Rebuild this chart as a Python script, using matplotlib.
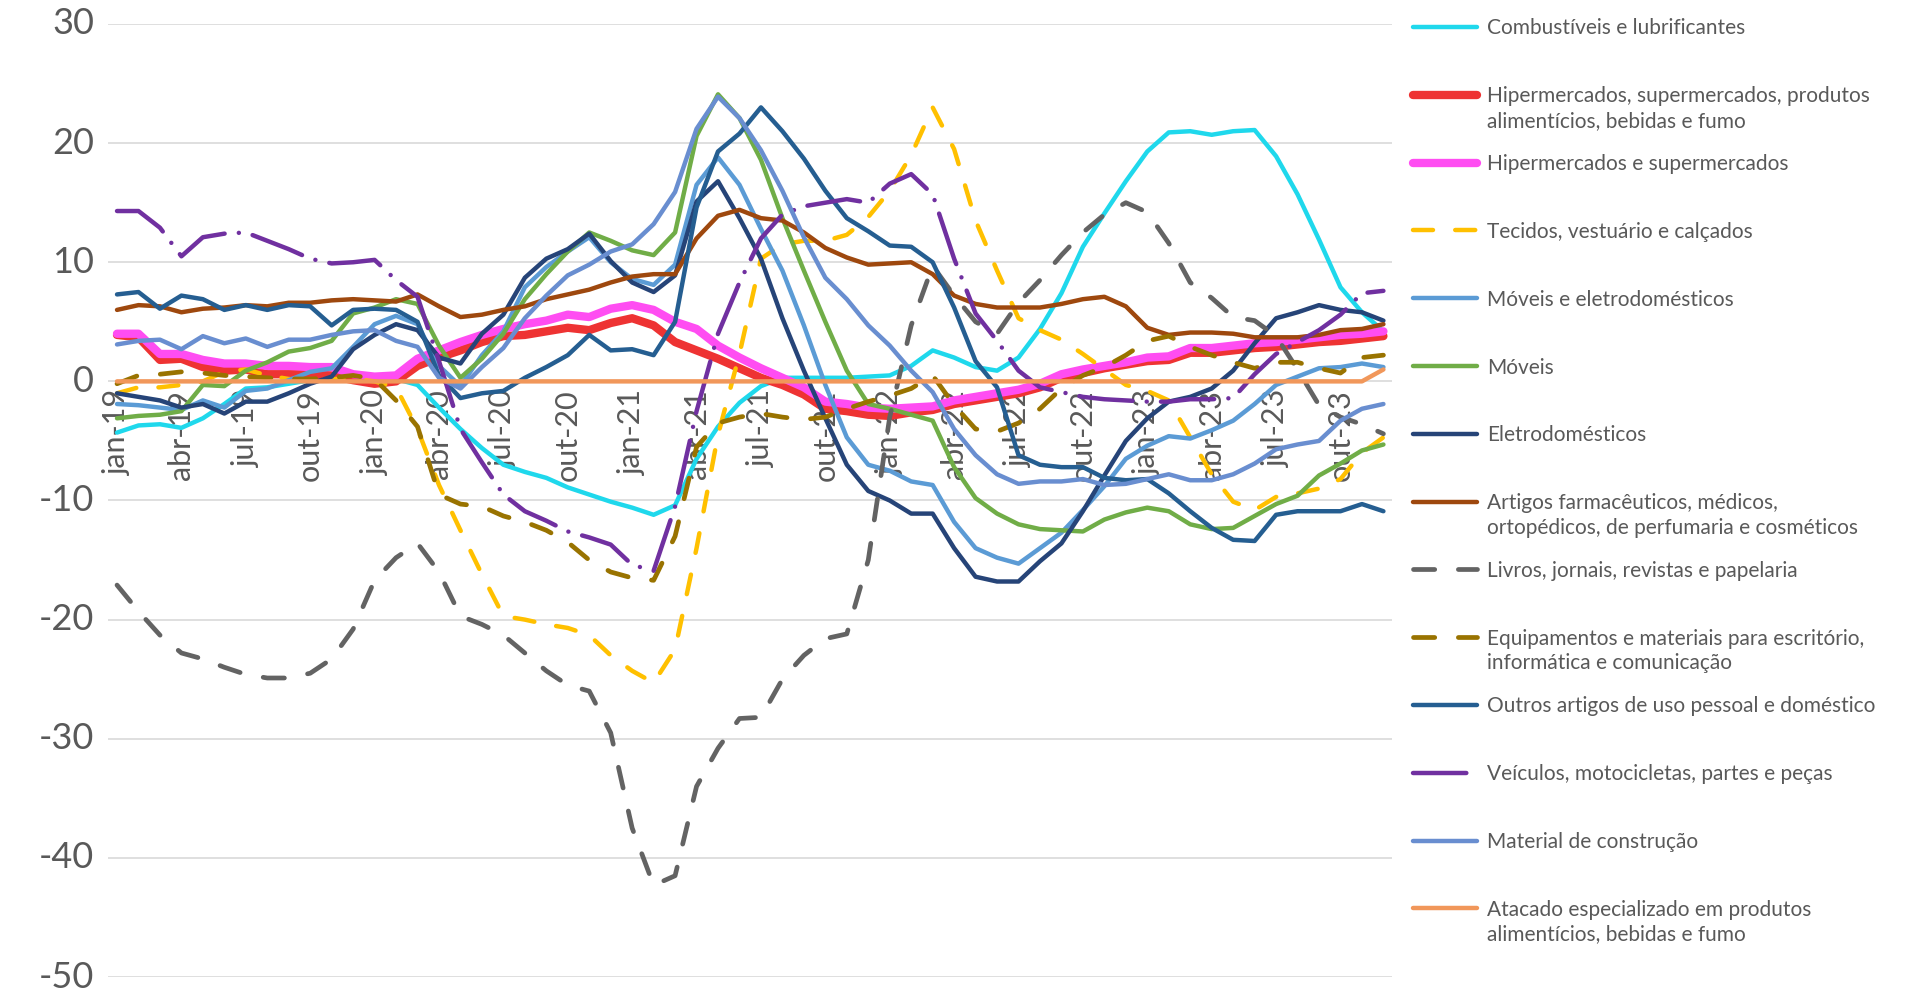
import matplotlib as mpl
mpl.use('Agg')
import matplotlib.pyplot as plt
from matplotlib.lines import Line2D
from matplotlib.transforms import ScaledTranslation

plt.rcParams['font.family'] = ['Lato', 'DejaVu Sans']
plt.rcParams['axes.unicode_minus'] = False

# categorias: jan-19 ... dez-23
meses = ['jan', 'fev', 'mar', 'abr', 'mai', 'jun', 'jul', 'ago', 'set', 'out', 'nov', 'dez']
categorias = [m + '-' + str(a) for a in range(19, 24) for m in meses]

combustiveis = [-4.3, -3.7, -3.6, -3.9, -3.1, -1.9, -0.6, -0.5, -0.2, 0.1, 0.4, 0.5, 0.4, 0.2, -0.3,
                -2.2, -4.0, -5.6, -7.0, -7.6, -8.1, -8.9, -9.5, -10.1, -10.6, -11.2, -10.4, -6.5, -3.8, -1.8,
                -0.4, 0.3, 0.3, 0.3, 0.3, 0.4, 0.5, 1.3, 2.6, 2.0, 1.2, 0.9, 2.0, 4.4, 7.4,
                11.3, 14.1, 16.8, 19.3, 20.9, 21.0, 20.7, 21.0, 21.1, 18.9, 15.7, 11.9, 7.9, 5.8, 4.2]
hiper_alim = [3.9, 3.7, 1.8, 1.9, 1.2, 0.9, 1.0, 0.6, 0.6, 0.6, 0.5, 0.1, -0.2, 0.0, 1.3,
              2.0, 2.6, 3.3, 3.8, 3.9, 4.2, 4.5, 4.3, 4.9, 5.3, 4.7, 3.3, 2.6, 1.9, 1.1,
              0.3, -0.3, -1.1, -2.3, -2.5, -2.8, -2.9, -2.6, -2.4, -1.9, -1.6, -1.3, -1.0, -0.5, 0.3,
              0.7, 1.1, 1.4, 1.7, 1.8, 2.4, 2.4, 2.6, 2.8, 2.9, 3.1, 3.3, 3.4, 3.6, 3.8]
hiper_super = [4.0, 4.0, 2.3, 2.3, 1.8, 1.5, 1.5, 1.3, 1.3, 1.2, 1.2, 0.6, 0.4, 0.5, 1.9,
               2.6, 3.3, 3.9, 4.4, 4.8, 5.1, 5.6, 5.4, 6.1, 6.4, 6.0, 5.0, 4.4, 3.0, 2.0,
               1.1, 0.3, -0.5, -1.7, -1.9, -2.2, -2.3, -2.2, -2.1, -1.6, -1.3, -1.0, -0.7, -0.2, 0.6,
               1.0, 1.3, 1.6, 2.0, 2.1, 2.8, 2.8, 3.0, 3.2, 3.3, 3.5, 3.7, 3.9, 4.0, 4.2]
tecidos = [-1.0, -0.5, -0.5, -0.3, 0.0, 0.8, 1.0, 0.5, 0.2, 0.1, 0.2, 0.2, 0.0, -0.5, -4.0,
           -8.7, -12.5, -16.2, -19.7, -20.0, -20.4, -20.7, -21.3, -23.0, -24.3, -25.3, -22.5, -14.0, -4.5, 2.3,
           10.3, 11.5, 11.8, 11.8, 12.3, 13.8, 16.0, 19.0, 23.0, 19.5, 13.5, 9.3, 5.3, 4.3, 3.5,
           2.3, 1.0, -0.3, -0.8, -1.6, -4.7, -7.8, -10.1, -10.8, -9.7, -9.4, -9.0, -8.2, -6.0, -4.7]
moveis_eletro = [-1.9, -2.0, -2.2, -2.4, -1.6, -2.2, -0.8, -0.6, 0.1, 0.8, 1.1, 2.9, 4.8, 5.5, 4.8,
                 1.3, -0.4, 2.2, 4.2, 7.9, 9.6, 10.9, 12.1, 10.0, 8.6, 8.1, 9.8, 16.5, 18.8, 16.5,
                 12.8, 9.3, 4.7, -0.3, -4.7, -7.0, -7.5, -8.4, -8.7, -11.8, -14.0, -14.8, -15.3, -14.0, -12.7,
                 -10.8, -8.8, -6.5, -5.4, -4.6, -4.8, -4.1, -3.3, -1.9, -0.3, 0.4, 1.1, 1.2, 1.5, 1.2]
moveis = [-3.1, -2.9, -2.8, -2.5, -0.3, -0.4, 0.9, 1.6, 2.5, 2.8, 3.4, 5.7, 6.2, 6.9, 6.5,
          3.0, 0.3, 1.9, 4.0, 6.9, 9.0, 10.9, 12.5, 11.8, 11.0, 10.6, 12.5, 20.6, 24.1, 22.1,
          18.6, 13.7, 9.3, 5.0, 0.9, -1.9, -2.3, -2.8, -3.3, -7.2, -9.8, -11.1, -12.0, -12.4, -12.5,
          -12.6, -11.6, -11.0, -10.6, -10.9, -12.0, -12.4, -12.3, -11.3, -10.3, -9.6, -7.9, -6.9, -5.8, -5.3]
eletro = [-1.0, -1.3, -1.6, -2.2, -1.9, -2.7, -1.7, -1.7, -1.0, -0.2, 0.4, 2.7, 3.9, 4.8, 4.3,
          2.0, 1.5, 4.0, 5.6, 8.7, 10.3, 11.1, 12.4, 10.1, 8.3, 7.5, 8.9, 15.1, 16.8, 13.7,
          10.3, 5.3, 0.9, -3.1, -7.0, -9.2, -10.0, -11.1, -11.1, -14.0, -16.4, -16.8, -16.8, -15.1, -13.6,
          -10.9, -7.9, -5.0, -3.1, -1.7, -1.3, -0.6, 0.9, 3.2, 5.3, 5.8, 6.4, 6.0, 5.8, 5.1]
farmaceuticos = [6.0, 6.4, 6.3, 5.8, 6.1, 6.2, 6.4, 6.3, 6.6, 6.6, 6.8, 6.9, 6.8, 6.7, 7.3,
                 6.3, 5.4, 5.6, 6.0, 6.3, 6.9, 7.3, 7.7, 8.3, 8.8, 9.0, 9.0, 12.0, 13.9, 14.4,
                 13.7, 13.5, 12.5, 11.2, 10.4, 9.8, 9.9, 10.0, 9.0, 7.2, 6.5, 6.2, 6.2, 6.2, 6.5,
                 6.9, 7.1, 6.3, 4.5, 3.9, 4.1, 4.1, 4.0, 3.7, 3.7, 3.7, 3.9, 4.3, 4.4, 4.8]
livros = [-17.1, -19.3, -21.3, -22.8, -23.3, -24.0, -24.6, -24.9, -24.9, -24.5, -23.3, -20.8, -16.7, -14.8, -13.6,
          -16.0, -19.7, -20.4, -21.3, -22.8, -24.3, -25.5, -26.0, -29.5, -37.5, -42.3, -41.5, -34.0, -30.8, -28.3,
          -28.2, -25.0, -23.0, -21.6, -21.2, -15.0, -3.0, 4.7, 9.7, 7.2, 5.0, 4.0, 6.6, 8.5, 10.6,
          12.5, 14.0, 15.0, 14.2, 11.6, 8.3, 7.0, 5.4, 5.1, 3.8, 1.0, -2.0, -3.0, -3.6, -4.4]
equipamentos = [-0.2, 0.5, 0.6, 0.8, 0.7, 0.5, 0.4, 0.3, 0.2, 0.2, 0.3, 0.5, 0.2, -1.6, -3.8,
                -9.5, -10.3, -10.5, -11.3, -11.8, -12.5, -13.5, -15.0, -16.0, -16.5, -16.7, -13.0, -5.5, -3.5, -3.0,
                -2.7, -3.0, -3.2, -3.0, -2.3, -1.7, -1.2, -0.6, 0.5, -2.0, -4.0, -4.2, -3.5, -2.3, -0.6,
                0.5, 1.2, 2.2, 3.4, 3.8, 2.9, 2.2, 1.6, 1.1, 1.6, 1.6, 1.1, 0.7, 2.0, 2.2]
outros = [7.3, 7.5, 6.1, 7.2, 6.9, 6.0, 6.4, 6.0, 6.4, 6.3, 4.7, 6.0, 6.1, 6.0, 5.0,
          0.5, -1.4, -1.0, -0.8, 0.3, 1.2, 2.2, 3.9, 2.6, 2.7, 2.2, 5.0, 14.6, 19.3, 20.8,
          23.0, 21.0, 18.7, 16.0, 13.7, 12.6, 11.4, 11.3, 10.0, 6.2, 1.7, -0.5, -6.2, -7.0, -7.2,
          -7.2, -8.1, -8.3, -8.2, -9.4, -10.9, -12.3, -13.3, -13.4, -11.2, -10.9, -10.9, -10.9, -10.3, -10.9]
veiculos = [14.3, 14.3, 12.9, 10.5, 12.1, 12.4, 12.5, 11.8, 11.1, 10.3, 9.9, 10.0, 10.2, 8.5, 7.1,
            1.7, -4.0, -6.8, -9.5, -10.9, -11.7, -12.6, -13.1, -13.7, -15.4, -15.9, -10.5, -2.5, 4.0, 8.3,
            12.0, 14.0, 14.7, 15.0, 15.3, 15.0, 16.6, 17.4, 15.7, 10.3, 5.7, 3.4, 0.9, -0.5, -0.9,
            -1.3, -1.5, -1.6, -1.7, -1.7, -1.5, -1.5, -1.4, 0.6, 2.3, 3.3, 4.3, 5.6, 7.4, 7.6]
construcao = [3.1, 3.4, 3.5, 2.7, 3.8, 3.2, 3.6, 2.9, 3.5, 3.5, 3.9, 4.2, 4.3, 3.4, 2.9,
              0.3, -0.6, 1.2, 2.8, 5.3, 7.2, 8.9, 9.8, 10.9, 11.5, 13.2, 15.9, 21.2, 23.9, 22.1,
              19.4, 16.0, 12.1, 8.7, 6.9, 4.7, 3.0, 0.9, -0.9, -4.0, -6.2, -7.8, -8.6, -8.4, -8.4,
              -8.2, -8.7, -8.6, -8.2, -7.8, -8.3, -8.3, -7.8, -6.9, -5.7, -5.3, -5.0, -3.3, -2.3, -1.9]
atacado = [0.0] * 59 + [1.0]

rotulos = ['Combustíveis e lubrificantes',
           'Hipermercados, supermercados, produtos\nalimentícios, bebidas e fumo',
           'Hipermercados e supermercados',
           'Tecidos, vestuário e calçados',
           'Móveis e eletrodomésticos',
           'Móveis',
           'Eletrodomésticos',
           'Artigos farmacêuticos, médicos,\nortopédicos, de perfumaria e cosméticos',
           'Livros, jornais, revistas e papelaria',
           'Equipamentos e materiais para escritório,\ninformática e comunicação',
           'Outros artigos de uso pessoal e doméstico',
           'Veículos, motocicletas, partes e peças',
           'Material de construção',
           'Atacado especializado em produtos\nalimentícios, bebidas e fumo']

tracejado = (4.5, 5.0)
traco_ponto = (12, 3.2, 0.01, 3.2)
# (valores, cor, espessura, tracejado)
estilos = [(combustiveis, '#1FD8EC', 3.2, None),
           (hiper_alim, '#EE3333', 6.0, None),
           (hiper_super, '#FF4DF2', 6.0, None),
           (tecidos, '#FFC000', 3.2, tracejado),
           (moveis_eletro, '#5B9BD5', 3.2, None),
           (moveis, '#70AD47', 3.2, None),
           (eletro, '#264478', 3.2, None),
           (farmaceuticos, '#9E480E', 3.2, None),
           (livros, '#636363', 3.4, tracejado),
           (equipamentos, '#997300', 3.4, tracejado),
           (outros, '#255E91', 3.2, None),
           (veiculos, '#7030A0', 3.2, traco_ponto),
           (construcao, '#698ED0', 3.2, None),
           (atacado, '#F1975A', 3.2, None)]

W, H = 1914, 991
fig = plt.figure(figsize=(W / 100, H / 100), dpi=100)
ax = fig.add_axes([108 / W, 1 - 977 / H, (1392 - 108) / W, (977 - 24) / H])

x = list(range(len(categorias)))
for valores, cor, lw, dashes in estilos:
    if dashes is None:
        ax.plot(x, valores, color=cor, lw=lw, solid_joinstyle='round', solid_capstyle='round')
    else:
        ax.plot(x, valores, color=cor, lw=lw, dashes=dashes,
                dash_capstyle='round', dash_joinstyle='round')

ax.set_xlim(-0.42, 59.4)
ax.set_ylim(-50, 30)
ax.set_yticks(range(-50, 31, 10))
ax.grid(axis='y', color='#D9D9D9', lw=1.2)
ax.set_axisbelow(True)
for s in ax.spines.values():
    s.set_visible(False)
ax.spines['bottom'].set_position(('data', 0))

ax.set_xticks(x[::3])
ax.set_xticklabels(categorias[::3], rotation=90, ha='center', va='top')
ax.tick_params(axis='x', length=0, pad=6, labelsize=22, labelcolor='#595959')
ax.tick_params(axis='y', length=0, pad=10, labelsize=26, labelcolor='#595959')
desloc = ScaledTranslation(0, 3 / 100, fig.dpi_scale_trans)
for lab in ax.get_yticklabels():
    lab.set_transform(lab.get_transform() + desloc)

# legenda desenhada à direita do gráfico
passo_linha = 24.5
for k, (rot, (valores, cor, lw, dashes)) in enumerate(zip(rotulos, estilos)):
    y_px = 27 + 67.8 * k
    yf = 1 - y_px / H
    linha = Line2D([1413 / W, 1477 / W], [yf, yf], transform=fig.transFigure,
                   color=cor, lw=lw, solid_capstyle='round')
    if dashes is not None:
        linha.set_dashes(dashes)
        linha.set_dash_capstyle('round')
    fig.add_artist(linha)
    for j, parte in enumerate(rot.split('\n')):
        fig.text(1487 / W, 1 - (y_px + 7.5 + j * passo_linha) / H, parte, fontsize=15,
                 color='#595959', va='baseline', ha='left')

fig.savefig('out.png', dpi=100)
